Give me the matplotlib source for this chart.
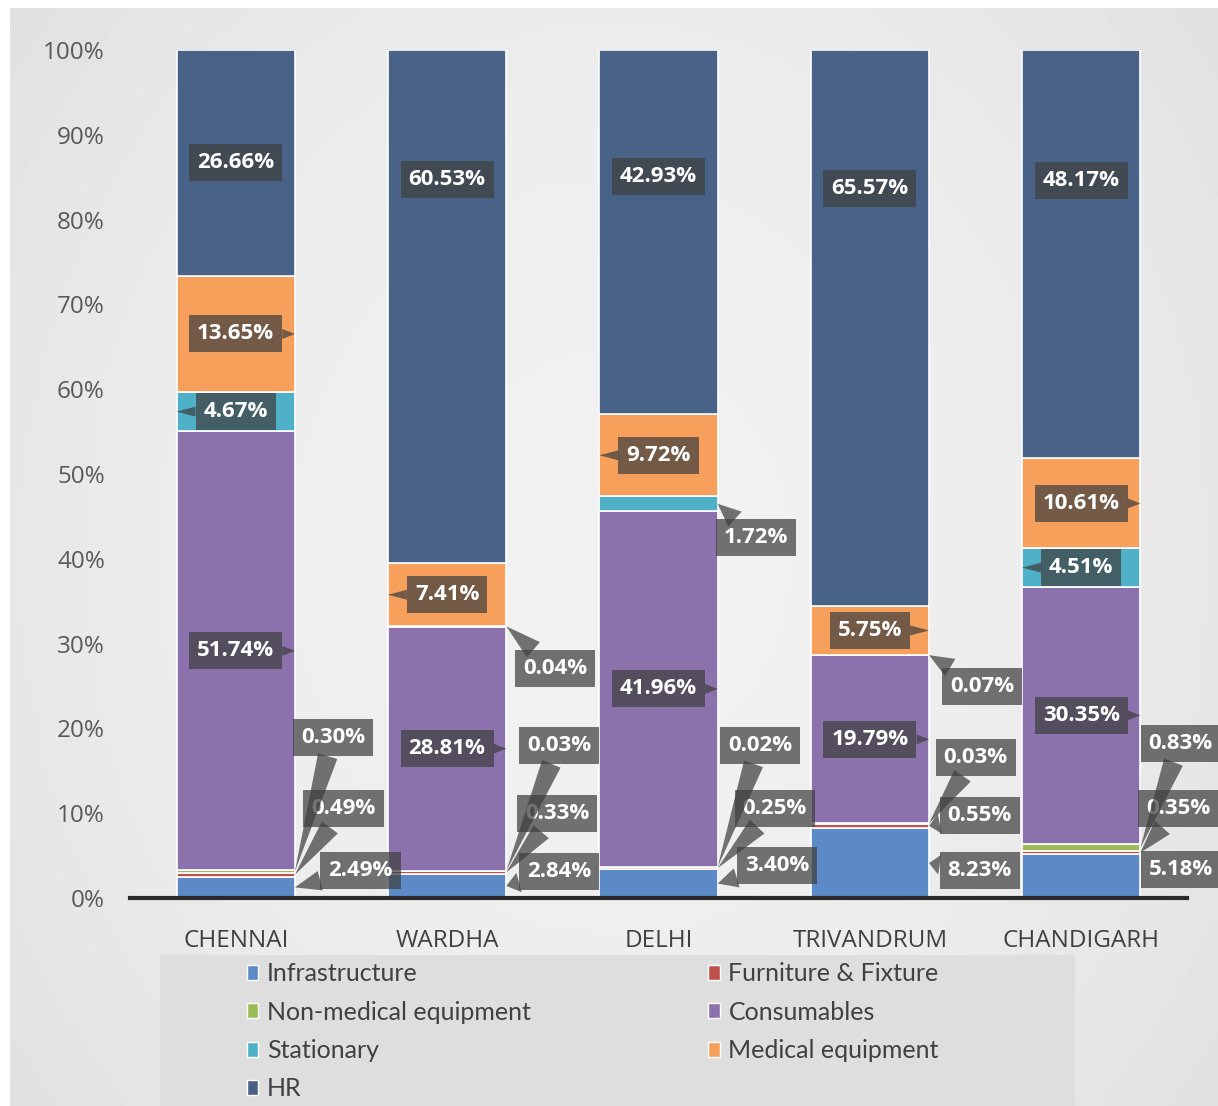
import numpy as np
import matplotlib.pyplot as plt
from matplotlib.patches import Patch, Rectangle

#### Cost share by centre (100% stacked)

cities = ["CHENNAI", "WARDHA", "DELHI", "TRIVANDRUM", "CHANDIGARH"]
series = ["Infrastructure", "Furniture & Fixture", "Non-medical equipment",
          "Consumables", "Stationary", "Medical equipment", "HR"]

infrastructure = [2.49, 2.84, 3.40, 8.23, 5.18]
furniture = [0.49, 0.33, 0.25, 0.55, 0.35]
non_medical = [0.30, 0.03, 0.02, 0.03, 0.83]
consumables = [51.74, 28.81, 41.96, 19.79, 30.35]
stationary = [4.67, 0.04, 1.72, 0.07, 4.51]
medical_eq = [13.65, 7.41, 9.72, 5.75, 10.61]
hr = [26.66, 60.53, 42.93, 65.57, 48.17]

colors = ["#5b8ac6", "#c0504d", "#9bbb59", "#8b72ac", "#4fb1c7", "#f6a05c", "#486387"]

# label layout (series index, city index) -> (x offset from bar edge, y in %)
outside = {
    (2, 0): (0.18, 18.9), (1, 0): (0.23, 10.5), (0, 0): (0.31, 3.3),
    (4, 1): (0.23, 27.1), (2, 1): (0.25, 18.0), (1, 1): (0.24, 10.0), (0, 1): (0.25, 3.1),
    (4, 2): (0.18, 42.5), (2, 2): (0.20, 18.0), (1, 2): (0.27, 10.6), (0, 2): (0.28, 3.8),
    (4, 3): (0.25, 25.0), (2, 3): (0.22, 16.6), (1, 3): (0.24, 9.7), (0, 3): (0.24, 3.2),
    (2, 4): (0.19, 18.2), (1, 4): (0.18, 10.5), (0, 4): (0.19, 3.4),
}
hr_label_y = [86.7, 84.7, 85.1, 83.7, 84.6]
pointer_side = {
    (5, 0): 1, (4, 0): -1, (3, 0): 1,
    (5, 1): -1, (3, 1): 1,
    (5, 2): -1, (3, 2): 1,
    (5, 3): 1, (3, 3): 1,
    (5, 4): 1, (4, 4): -1, (3, 4): 1,
}

data = np.array([infrastructure, furniture, non_medical, consumables,
                 stationary, medical_eq, hr])
data = data / data.sum(axis=0) * 100

W, H = 1218, 1106
fig = plt.figure(figsize=(W / 100, H / 100), dpi=100, facecolor="white")

# background panel with a soft gradient
bg = fig.add_axes([10 / W, 0, 1 - 10 / W, 1 - 8 / H], zorder=-5)
yy, xx = np.mgrid[-1:1:200j, -1:1:200j]
grad = 0.945 - 0.04 * (xx ** 2 + 0.6 * yy ** 2)
bg.imshow(grad, cmap="gray", vmin=0, vmax=1, aspect="auto", extent=[0, 1, 0, 1])
bg.axis("off")

# legend panel
fig.patches.append(Rectangle((160 / W, 0), (1075 - 160) / W, (H - 955) / H,
                             transform=fig.transFigure, facecolor="#dedede",
                             edgecolor="none", zorder=-1))

ax = fig.add_axes([130 / W, 1 - 898 / H, 1057 / W, 848 / H])
ax.set_facecolor("none")

x = np.arange(len(cities))
bw = 0.56
bottom = np.zeros(len(cities))
handles = []
for s in range(len(series)):
    ax.bar(x, data[s], bw, bottom=bottom, color=colors[s], edgecolor="white",
           linewidth=1.2, zorder=2)
    handles.append(Patch(facecolor=colors[s], edgecolor="white", label=series[s]))
    bottom = bottom + data[s]

cum = np.cumsum(data, axis=0) - data
box = dict(boxstyle="square,pad=0.36", fc="#3f3f3f", ec="none", alpha=0.72)
txt = dict(color="white", fontsize=16, fontweight="bold", family="Open Sans",
           ha="center", va="center", zorder=5)

for s in range(len(series)):
    for c in range(len(cities)):
        val = [infrastructure, furniture, non_medical, consumables,
               stationary, medical_eq, hr][s][c]
        label = "%.2f%%" % val
        mid = cum[s, c] + data[s, c] / 2
        right = x[c] + bw / 2
        if (s, c) in outside:
            dx, ly = outside[(s, c)]
            ax.annotate(label, xy=(right, mid), xytext=(right + dx, ly),
                        bbox=box, annotation_clip=False,
                        arrowprops=dict(arrowstyle="wedge,tail_width=0.9,shrink_factor=0.5",
                                        fc="#3f3f3f", ec="none", alpha=0.72,
                                        shrinkA=0, shrinkB=0),
                        **txt)
        elif s == 6:
            ax.text(x[c], hr_label_y[c], label, bbox=box, **txt)
        else:
            side = pointer_side.get((s, c), 1)
            ax.annotate(label, xy=(x[c] + side * bw / 2, mid), xytext=(x[c], mid),
                        bbox=box,
                        arrowprops=dict(arrowstyle="wedge,tail_width=0.45,shrink_factor=0.5",
                                        fc="#3f3f3f", ec="none", alpha=0.72,
                                        shrinkA=0, shrinkB=0),
                        **txt)

ax.set_xlim(-0.5, 4.5)
ax.set_ylim(0, 100)
ax.set_yticks(np.arange(0, 101, 10))
ax.set_yticklabels(["%d%%" % v for v in range(0, 101, 10)])
ax.set_xticks(x)
ax.set_xticklabels(cities)
ax.tick_params(axis="y", length=0, pad=18, labelsize=17.5, labelcolor="#595959")
ax.tick_params(axis="x", length=0, pad=22, labelsize=17.5, labelcolor="#404040")
for t in ax.get_xticklabels() + ax.get_yticklabels():
    t.set_family("Open Sans")
for side in ["top", "right", "left"]:
    ax.spines[side].set_visible(False)
ax.spines["bottom"].set_color("#2a2a2a")
ax.spines["bottom"].set_linewidth(3)
ax.spines["bottom"].set_zorder(4)

order = [0, 2, 4, 6, 1, 3, 5]
fig.legend([handles[i] for i in order], [series[i] for i in order],
           loc="upper left", bbox_to_anchor=(247 / W, 1 - 962 / H), ncol=2,
           frameon=False, prop={"family": "Lato", "size": 18},
           handlelength=0.45, handleheight=0.55, handletextpad=0.35,
           columnspacing=7.1, labelspacing=0.62, borderpad=0, borderaxespad=0,
           labelcolor="#404040")

fig.savefig("out.png", dpi=100, facecolor="white")
